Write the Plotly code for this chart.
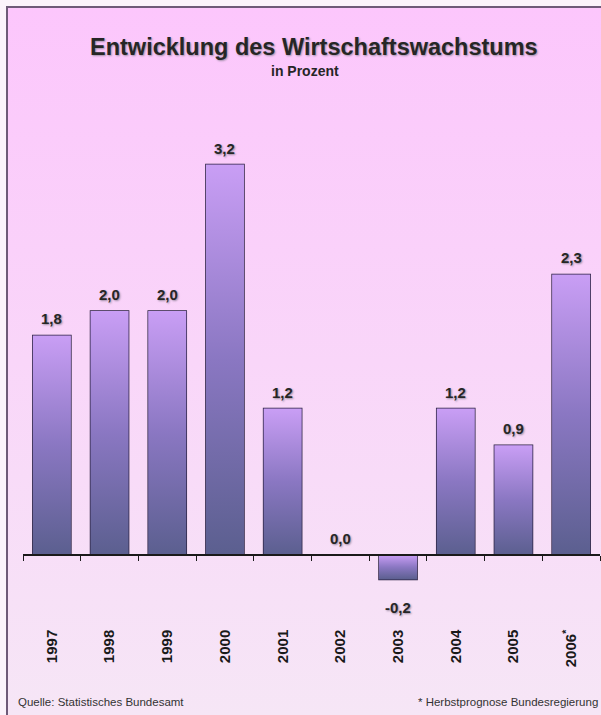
import base64
import plotly.graph_objects as go

# ---- data ----
years = ["1997", "1998", "1999", "2000", "2001", "2002", "2003", "2004", "2005", "2006<sup>*</sup>"]
growth = [1.8, 2.0, 2.0, 3.2, 1.2, 0.0, -0.2, 1.2, 0.9, 2.3]
labels = ["1,8", "2,0", "2,0", "3,2", "1,2", "0,0", "-0,2", "1,2", "0,9", "2,3"]

title_text = "Entwicklung des Wirtschaftswachstums"
subtitle_text = "in Prozent"
source_text = "Quelle: Statistisches Bundesamt"
note_text = "* Herbstprognose Bundesregierung"

# ---- geometry helpers ----
W, H = 601, 715
ML, MR, MT, MB = 23, 1, 100, 115
PW, PH = W - ML - MR, H - MT - MB


def px_x(px):
    return (px - ML) / PW


def px_y(py):
    return (H - MB - py) / PH


BAR_W = 0.66
FONT = "Liberation Sans, Arial, sans-serif"
idx = list(range(len(years)))

fig = go.Figure()

# gradient fills for bars (derived from the data values)
for i, v in zip(idx, growth):
    if v == 0:
        continue
    x0, x1 = i - BAR_W / 2, i + BAR_W / 2
    fig.add_trace(go.Scatter(
        x=[x0, x0, x1, x1, x0], y=[0, v, v, 0, 0],
        mode="lines", fill="toself", line=dict(width=0, color="rgba(0,0,0,0)"),
        fillgradient=dict(type="vertical", start=min(0, v), stop=max(0, v),
                          colorscale=[[0, "#5b5f8f"], [0.5, "#8a77c2"], [1, "#c99ef5"]]),
        hoverinfo="skip", showlegend=False,
    ))

# bars: outline
fig.add_trace(go.Bar(
    x=idx, y=growth, width=BAR_W,
    marker=dict(color="rgba(0,0,0,0)", line=dict(color="#2a2040", width=1.5)),
    showlegend=False,
))

# value labels
for i, v, lab in zip(idx, growth, labels):
    neg = v < 0
    fig.add_annotation(
        x=i, y=v, text="<b>" + lab + "</b>", showarrow=False,
        yanchor="top" if neg else "bottom", yshift=-18 if neg else 6,
        font=dict(family=FONT, size=15, color="#262626", shadow="1px 1px 2px #9a8aa0"),
    )

# background gradient image
svg = ('<svg xmlns="http://www.w3.org/2000/svg" width="100" height="100" preserveAspectRatio="none">'
       '<defs><linearGradient id="g" x1="0" y1="0" x2="0" y2="1">'
       '<stop offset="0" stop-color="#fcc6fc"/><stop offset="1" stop-color="#f6e6f6"/>'
       '</linearGradient></defs><rect width="100" height="100" fill="url(#g)"/></svg>')
src = "data:image/svg+xml;base64," + base64.b64encode(svg.encode()).decode()

fig.add_layout_image(dict(
    source=src, xref="paper", yref="paper",
    x=px_x(7), y=px_y(7), sizex=(W - 7) / PW, sizey=(H - 7) / PH,
    sizing="stretch", xanchor="left", yanchor="top", layer="below",
))

# border
fig.add_shape(type="rect", xref="paper", yref="paper",
              x0=px_x(7), x1=px_x(W + 20), y0=px_y(H + 20), y1=px_y(7),
              line=dict(color="#6e5a78", width=2), layer="above")

fig.add_annotation(text="<b>" + title_text + "</b>", xref="paper", yref="paper",
                   x=px_x(314), y=px_y(47), showarrow=False, xanchor="center", yanchor="middle",
                   font=dict(family=FONT, size=23.5, color="#262626", shadow="1px 1px 2px #a090a8"))
fig.add_annotation(text="<b>" + subtitle_text + "</b>", xref="paper", yref="paper",
                   x=px_x(305), y=px_y(71), showarrow=False, xanchor="center", yanchor="middle",
                   font=dict(family=FONT, size=14, color="#262626"))
fig.add_annotation(text=source_text, xref="paper", yref="paper",
                   x=px_x(16), y=px_y(702), xanchor="left", yanchor="middle", showarrow=False,
                   font=dict(family=FONT, size=11.5, color="#333333"))
fig.add_annotation(text=note_text, xref="paper", yref="paper",
                   x=px_x(600), y=px_y(702), xanchor="right", yanchor="middle", showarrow=False,
                   font=dict(family=FONT, size=11.5, color="#333333"))

zero_frac = px_y(555)
fig.update_layout(
    width=W, height=H,
    margin=dict(l=ML, r=MR, t=MT, b=MB),
    paper_bgcolor="#fbf3fb", plot_bgcolor="rgba(0,0,0,0)",
    barmode="overlay",
    xaxis=dict(
        range=[-0.5, 9.5], tickmode="array", tickvals=idx, ticktext=years,
        anchor="free", position=zero_frac,
        showline=True, linecolor="#1a1a1a", linewidth=1.5,
        ticks="outside", ticklen=0, showgrid=False, zeroline=False,
        tickangle=-90, ticklabelstandoff=68,
        tickfont=dict(family=FONT, size=15, color="#1a1a1a", weight="bold"),
        minor=dict(ticks="outside", ticklen=5, tickcolor="#1a1a1a", tick0=-0.5, dtick=1, showgrid=False),
    ),
    yaxis=dict(range=[-(600 - 555) / 122, (555 - 100) / 122], visible=False),
)

fig.write_html("out.html", config={"displayModeBar": False},
               post_script="document.body.style.margin='0';document.body.style.overflow='hidden';")
